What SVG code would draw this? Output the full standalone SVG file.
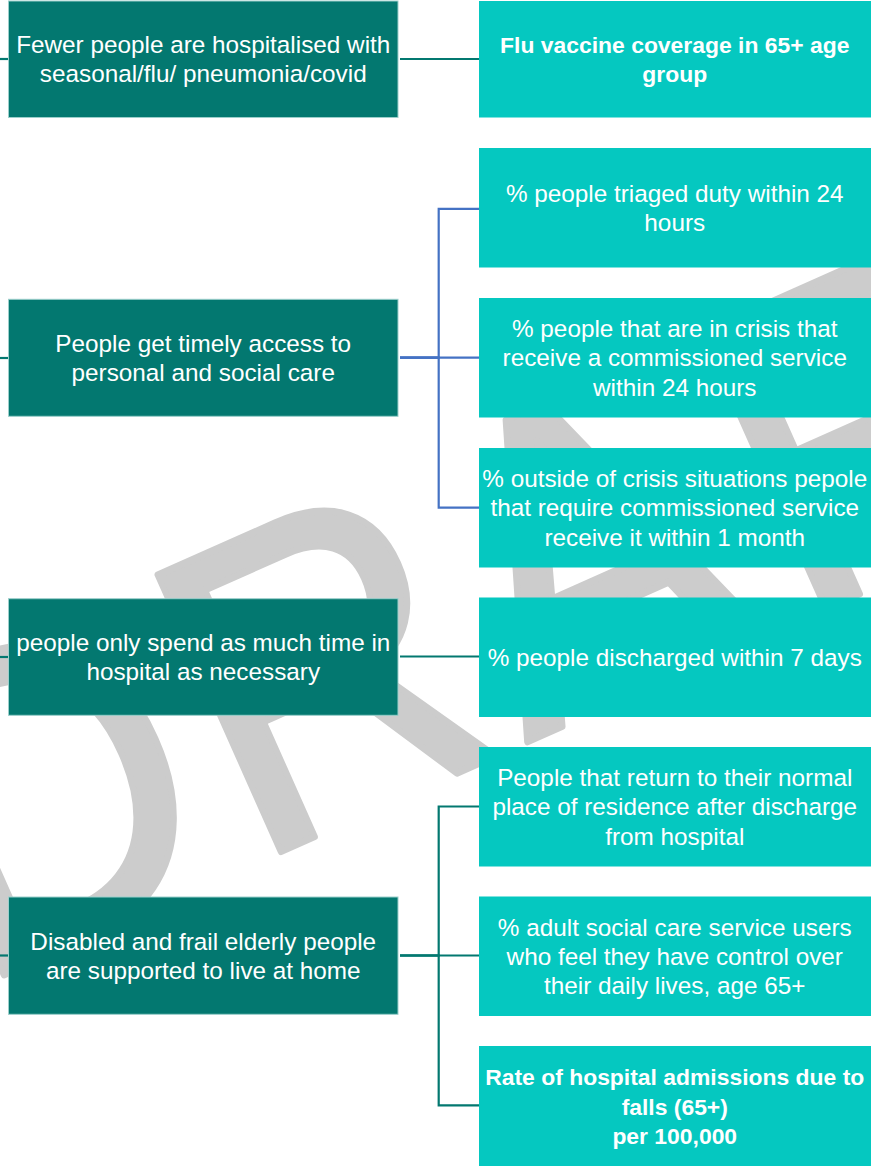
<svg xmlns="http://www.w3.org/2000/svg" width="871" height="1166" viewBox="0 0 871 1166">
<style>
.dark{fill:#037870;stroke:#9CCFCB;stroke-width:1}
.light{fill:#05C8C0}
.t{font-family:"Liberation Sans",Arial,sans-serif;font-size:24.3px;fill:#FFFFFF;text-anchor:middle}
.b{font-weight:bold;font-size:22.9px}
.wm{font-family:"Liberation Sans",Arial,sans-serif;font-size:440px;fill:#CCCCCC;stroke:#CCCCCC;stroke-width:7;stroke-linejoin:round}
.ct{stroke:#037870;stroke-width:2.2;fill:none}
.cb{stroke:#4472C4;stroke-width:2.2;fill:none}
</style>
<rect width="871" height="1166" fill="#FFFFFF"/>
<g id="watermark">
<text class="wm" transform="translate(280 852) rotate(-24) scale(0.9 1)" x="-372 -35 300 628 897" y="0">DRAFT</text>
</g>
<g id="connectors">
<line class="ct" x1="0" y1="59" x2="9" y2="59"/>
<line class="ct" x1="0" y1="358" x2="9" y2="358"/>
<line class="ct" x1="0" y1="657" x2="9" y2="657"/>
<line class="ct" x1="0" y1="955.5" x2="9" y2="955.5"/>
<line class="ct" x1="400" y1="59" x2="479" y2="59"/>
<path class="cb" d="M400 357.7 H438.7 V208.8 H479"/>
<path class="cb" d="M400 357.7 H479"/>
<path class="cb" d="M400 357.7 H438.7 V507.7 H479"/>
<line class="ct" x1="400" y1="656.5" x2="479" y2="656.5"/>
<path class="ct" d="M400 955.5 H438.7 V806.5 H479"/>
<path class="ct" d="M400 955.5 H479"/>
<path class="ct" d="M400 955.5 H438.7 V1105.3 H479"/>
</g>
<g id="outcome-flu">
<rect class="dark" x="8.5" y="1" width="389.5" height="116.5"/>
<text class="t" x="203.25" y="52.9">Fewer people are hospitalised with</text>
<text class="t" x="203.25" y="82.2">seasonal/flu/ pneumonia/covid</text>
</g>
<g id="outcome-access">
<rect class="dark" x="8.5" y="299.3" width="389.5" height="117"/>
<text class="t" x="203.25" y="351.9">People get timely access to</text>
<text class="t" x="203.25" y="381.2">personal and social care</text>
</g>
<g id="outcome-hospital">
<rect class="dark" x="8.5" y="598.7" width="389.5" height="116.6"/>
<text class="t" x="203.25" y="650.9">people only spend as much time in</text>
<text class="t" x="203.25" y="680.2">hospital as necessary</text>
</g>
<g id="outcome-home">
<rect class="dark" x="8.5" y="897" width="389.5" height="117.3"/>
<text class="t" x="203.25" y="949.5">Disabled and frail elderly people</text>
<text class="t" x="203.25" y="978.8">are supported to live at home</text>
</g>
<g id="ind-flu">
<rect class="light" x="479" y="1" width="392" height="116.5"/>
<text class="t b" x="674.75" y="52.9">Flu vaccine coverage in 65+ age</text>
<text class="t b" x="674.75" y="82.2">group</text>
</g>
<g id="ind-triaged">
<rect class="light" x="479" y="148" width="392" height="119.5"/>
<text class="t" x="674.75" y="201.6">% people triaged duty within 24</text>
<text class="t" x="674.75" y="230.9">hours</text>
</g>
<g id="ind-crisis">
<rect class="light" x="479" y="298" width="392" height="119.5"/>
<text class="t" x="674.75" y="337">% people that are in crisis that</text>
<text class="t" x="674.75" y="366.3">receive a commissioned service</text>
<text class="t" x="674.75" y="395.6">within 24 hours</text>
</g>
<g id="ind-noncrisis">
<rect class="light" x="479" y="448" width="392" height="119.5"/>
<text class="t" x="674.75" y="487">% outside of crisis situations pepole</text>
<text class="t" x="674.75" y="516.3">that require commissioned service</text>
<text class="t" x="674.75" y="545.6">receive it within 1 month</text>
</g>
<g id="ind-discharged">
<rect class="light" x="479" y="597.5" width="392" height="119.5"/>
<text class="t" x="674.75" y="665.7">% people discharged within 7 days</text>
</g>
<g id="ind-return">
<rect class="light" x="479" y="747" width="392" height="119.5"/>
<text class="t" x="674.75" y="786">People that return to their normal</text>
<text class="t" x="674.75" y="815.3">place of residence after discharge</text>
<text class="t" x="674.75" y="844.6">from hospital</text>
</g>
<g id="ind-control">
<rect class="light" x="479" y="896.5" width="392" height="119.5"/>
<text class="t" x="674.75" y="935.5">% adult social care service users</text>
<text class="t" x="674.75" y="964.8">who feel they have control over</text>
<text class="t" x="674.75" y="994.1">their daily lives, age 65+</text>
</g>
<g id="ind-falls">
<rect class="light" x="479" y="1046" width="392" height="120"/>
<text class="t b" x="674.75" y="1085.3">Rate of hospital admissions due to</text>
<text class="t b" x="674.75" y="1114.6">falls (65+)</text>
<text class="t b" x="674.75" y="1143.9">per 100,000</text>
</g>
</svg>
